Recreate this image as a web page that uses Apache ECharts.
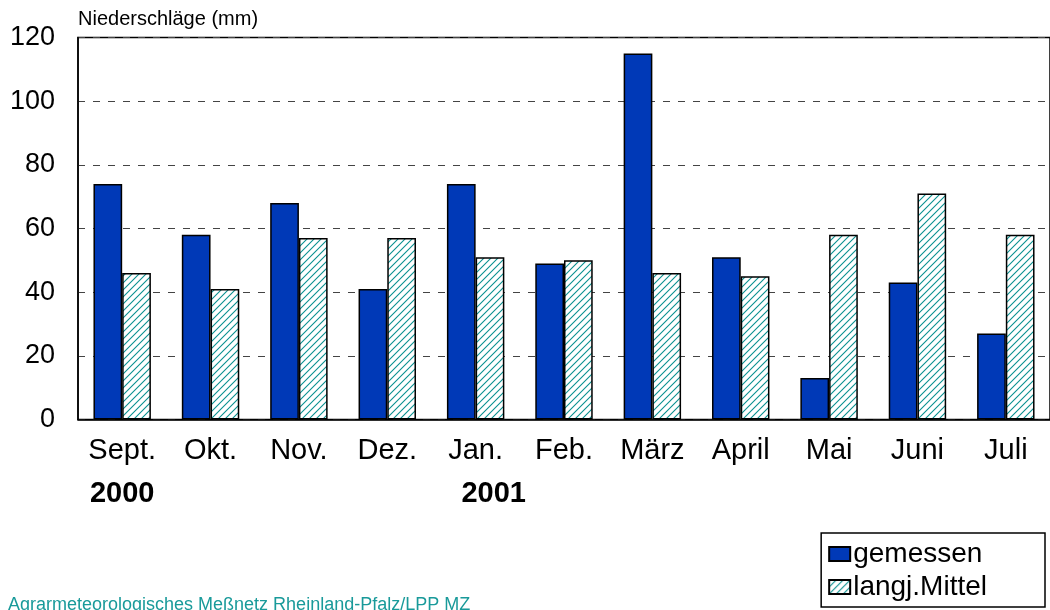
<!DOCTYPE html>
<html>
<head>
<meta charset="utf-8">
<script src="https://cdn.jsdelivr.net/npm/echarts@6/dist/echarts.min.js"></script>
<style>
  html, body { margin: 0; padding: 0; background: #fff; }
  #main { width: 1050px; height: 610px; }
</style>
</head>
<body>
<div id="main"></div>
<script>
var months = ['Sept.', 'Okt.', 'Nov.', 'Dez.', 'Jan.', 'Feb.', 'März', 'April', 'Mai', 'Juni', 'Juli']
var years = { 'Sept.': '2000', 'Jan.': '2001' }
var gemessen = [74, 58, 68, 41, 74, 49, 115, 51, 13, 43, 27]
var mittel = [46, 41, 57, 57, 51, 50, 46, 45, 58, 71, 58]

// hatch pattern for langj.Mittel
function hatch() {
  var c = document.createElement('canvas')
  c.width = 7
  c.height = 7
  var ctx = c.getContext('2d')
  ctx.fillStyle = '#fff'
  ctx.fillRect(0, 0, 7, 7)
  ctx.strokeStyle = '#0a9090'
  ctx.lineWidth = 1.1
  ctx.beginPath()
  ctx.moveTo(-1, 8); ctx.lineTo(8, -1)
  ctx.moveTo(-1, 1); ctx.lineTo(1, -1)
  ctx.moveTo(6, 8); ctx.lineTo(8, 6)
  ctx.stroke()
  return c
}

var chart = echarts.init(document.getElementById('main'))
var font = 'Liberation Sans, Arial, sans-serif'
chart.setOption({
  animation: false,
  textStyle: { fontFamily: font },
  title: {
    text: 'Agrarmeteorologisches Meßnetz Rheinland-Pfalz/LPP MZ',
    left: 3,
    top: 591,
    textStyle: { color: '#199a9a', fontSize: 18, fontWeight: 'normal', fontFamily: font }
  },
  legend: {
    orient: 'vertical',
    right: 5,
    top: 533,
    padding: [7, 58, 6, 7],
    itemGap: 5,
    itemWidth: 21,
    itemHeight: 14,
    icon: 'rect',
    borderColor: '#000',
    borderWidth: 1.5,
    textStyle: { fontSize: 28, color: '#000', fontFamily: font, padding: [0, 0, 0, -2] },
    data: ['gemessen', 'langj.Mittel']
  },
  grid: {
    left: 78,
    top: 37.5,
    width: 981,
    height: 382,
    show: true,
    borderColor: '#000',
    borderWidth: 1.5
  },
  xAxis: {
    type: 'category',
    data: months,
    axisLine: { lineStyle: { color: '#000', width: 1.5 } },
    axisTick: { show: false },
    axisLabel: {
      interval: 0,
      fontSize: 29,
      color: '#000',
      margin: 10,
      lineHeight: 43,
      formatter: function (v) {
        if (v === 'Jan.') return v + '\n{y2|' + years[v] + '}'
        if (years[v]) return v + '\n{y|' + years[v] + '}'
        return v
      },
      rich: {
        y: { fontSize: 29, fontWeight: 'bold', color: '#000', lineHeight: 43 },
        y2: { fontSize: 29, fontWeight: 'bold', color: '#000', lineHeight: 43, padding: [0, 0, 0, 36] }
      }
    }
  },
  yAxis: {
    type: 'value',
    min: 0,
    max: 120,
    interval: 20,
    name: 'Niederschläge (mm)',
    nameLocation: 'end',
    nameGap: 8,
    nameTextStyle: { align: 'left', fontSize: 20, color: '#000' },
    axisLine: { show: true, lineStyle: { color: '#000', width: 1.5 } },
    axisTick: { show: false },
    axisLabel: { fontSize: 27, color: '#000', margin: 23 },
    splitLine: { lineStyle: { color: '#444', type: [7, 8], width: 1.2 } }
  },
  series: [
    {
      name: 'gemessen',
      type: 'bar',
      data: gemessen,
      barWidth: '32.5%',
      barGap: '0%',
      itemStyle: { color: '#0039b7', borderColor: '#000', borderWidth: 1.5 }
    },
    {
      name: 'langj.Mittel',
      type: 'bar',
      data: mittel,
      barWidth: '32.5%',
      itemStyle: { color: { image: hatch(), repeat: 'repeat' }, borderColor: '#000', borderWidth: 1.5 }
    }
  ]
})
</script>
</body>
</html>
